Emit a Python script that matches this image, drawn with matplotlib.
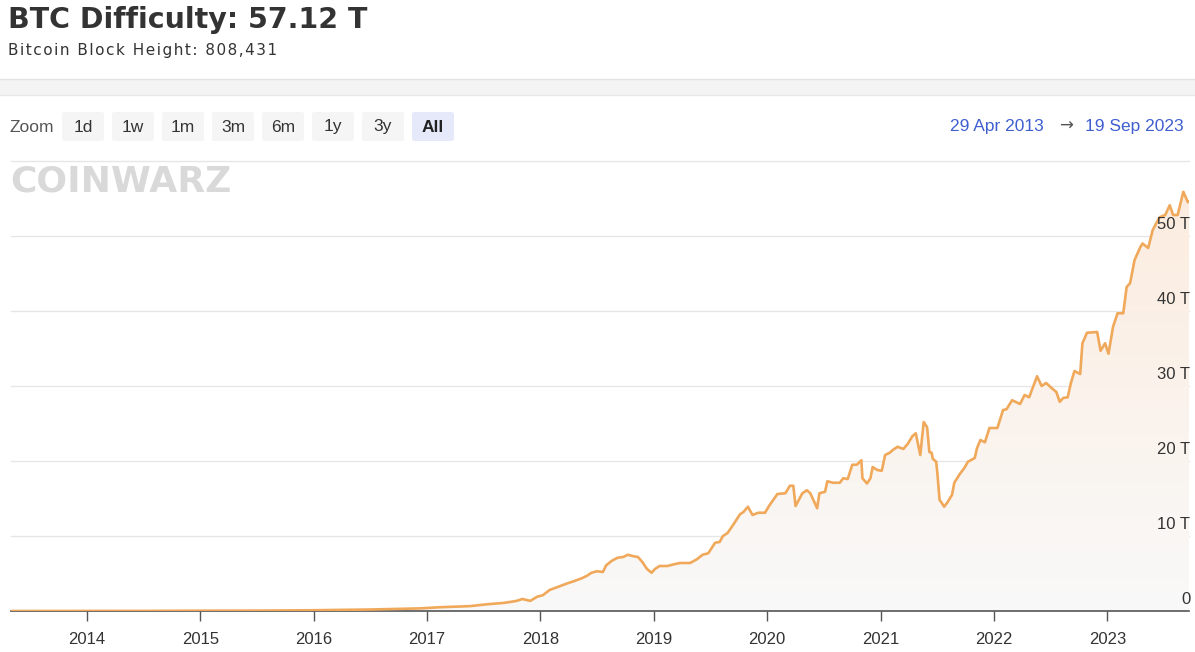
import numpy as np
import matplotlib.pyplot as plt
from matplotlib.patches import Polygon, FancyBboxPatch, Rectangle
from matplotlib.colors import LinearSegmentedColormap

# difficulty in T, dates as decimal years
years = [2013.33, 2013.75, 2014.0, 2014.5, 2015.0, 2015.5, 2016.0, 2016.5, 2016.94,
         2017.11, 2017.38, 2017.53, 2017.67, 2017.73, 2017.79, 2017.84, 2017.91, 2017.97,
         2018.02, 2018.08, 2018.15, 2018.20, 2018.24, 2018.30, 2018.37, 2018.41, 2018.45,
         2018.50, 2018.55, 2018.58, 2018.63, 2018.68, 2018.73, 2018.77, 2018.82, 2018.86,
         2018.90, 2018.94, 2018.98, 2019.01, 2019.05, 2019.12, 2019.17, 2019.23, 2019.32,
         2019.38, 2019.43, 2019.48, 2019.54, 2019.58, 2019.61, 2019.65, 2019.70, 2019.76,
         2019.79, 2019.83, 2019.87, 2019.92, 2019.98, 2020.02, 2020.09, 2020.16, 2020.20,
         2020.23, 2020.25, 2020.31, 2020.35, 2020.38, 2020.44, 2020.46, 2020.51, 2020.53,
         2020.58, 2020.64, 2020.67, 2020.71, 2020.75, 2020.79, 2020.83, 2020.84, 2020.88,
         2020.91, 2020.93, 2020.97, 2021.01, 2021.04, 2021.08, 2021.11, 2021.15, 2021.20,
         2021.24, 2021.28, 2021.31, 2021.35, 2021.38, 2021.41, 2021.43, 2021.45, 2021.46,
         2021.49, 2021.50, 2021.52, 2021.54, 2021.56, 2021.59, 2021.63, 2021.65, 2021.70,
         2021.74, 2021.77, 2021.83, 2021.85, 2021.88, 2021.92, 2021.96, 2022.03, 2022.08,
         2022.11, 2022.16, 2022.23, 2022.27, 2022.31, 2022.38, 2022.42, 2022.46, 2022.51,
         2022.55, 2022.58, 2022.61, 2022.65, 2022.68, 2022.71, 2022.76, 2022.78, 2022.82,
         2022.91, 2022.94, 2022.98, 2023.01, 2023.05, 2023.09, 2023.14, 2023.17, 2023.20,
         2023.24, 2023.29, 2023.31, 2023.36, 2023.40, 2023.46, 2023.51, 2023.55, 2023.58,
         2023.62, 2023.67, 2023.71, 2023.72]
difficulty = [0.0, 0.0003, 0.0014, 0.015, 0.04, 0.05, 0.10, 0.2, 0.35,
              0.5, 0.65, 0.9, 1.07, 1.2, 1.35, 1.6, 1.35, 1.9,
              2.1, 2.8, 3.2, 3.5, 3.7, 4.0, 4.4, 4.7, 5.1,
              5.3, 5.2, 6.1, 6.7, 7.1, 7.2, 7.5, 7.3, 7.2,
              6.5, 5.6, 5.1, 5.6, 6.0, 6.0, 6.2, 6.4, 6.4,
              6.9, 7.5, 7.7, 9.1, 9.2, 10.0, 10.4, 11.5, 12.9,
              13.2, 13.9, 12.8, 13.1, 13.1, 14.1, 15.6, 15.7, 16.7,
              16.7, 14.0, 15.7, 16.1, 15.7, 13.7, 15.7, 15.9, 17.3,
              17.1, 17.1, 17.7, 17.6, 19.5, 19.5, 20.1, 17.7, 17.0,
              17.7, 19.2, 18.8, 18.7, 20.8, 21.1, 21.5, 21.9, 21.6,
              22.3, 23.3, 23.7, 20.8, 25.2, 24.5, 21.2, 21.1, 20.3,
              19.9, 18.5, 14.8, 14.4, 13.9, 14.5, 15.5, 17.1, 18.3,
              19.1, 19.9, 20.4, 21.7, 22.8, 22.5, 24.4, 24.4, 26.8,
              26.9, 28.1, 27.6, 28.8, 28.5, 31.3, 30.0, 30.4, 29.7,
              29.2, 27.9, 28.4, 28.5, 30.5, 32.0, 31.6, 35.7, 37.1,
              37.2, 34.7, 35.7, 34.3, 37.9, 39.7, 39.7, 43.2, 43.7,
              46.8, 48.5, 49.0, 48.4, 50.8, 52.5, 52.8, 54.1, 52.8,
              52.8, 55.9, 54.5, 54.6]
year_ticks = list(range(2014, 2024))
y_ticks = [0, 10, 20, 30, 40, 50]
y_labels = ['0', '10 T', '20 T', '30 T', '40 T', '50 T']
zoom_buttons = ['1d', '1w', '1m', '3m', '6m', '1y', '3y', 'All']

W, H = 1195, 652
fig = plt.figure(figsize=(W / 100, H / 100), dpi=100)
fig.patch.set_facecolor('white')


def fx(px):
    return px / W


def fy(py):
    return 1 - py / H


# header
fig.text(fx(8), fy(20), 'BTC Difficulty: 57.12 T', fontsize=20.5, fontweight='bold',
         color='#333333', va='center', ha='left', family='DejaVu Sans')
subtitle = 'Bitcoin Block Height: 808,431'
fig.text(fx(8), fy(51), '\u200a'.join(subtitle), fontsize=11,
         color='#333333', va='center', ha='left', family='DejaVu Sans')

# grey band
fig.patches.append(Rectangle((0, fy(95)), 1, fy(79) - fy(95), transform=fig.transFigure,
                             facecolor='#f4f4f4', edgecolor='none'))
fig.lines.append(plt.Line2D([0, 1], [fy(79), fy(79)], transform=fig.transFigure,
                            color='#e2e2e2', lw=1))
fig.lines.append(plt.Line2D([0, 1], [fy(95), fy(95)], transform=fig.transFigure,
                            color='#e8e8e8', lw=1))

# zoom buttons
fig.text(fx(10), fy(127), 'Zoom', fontsize=12.5, color='#555555', va='center',
         family='Liberation Sans')
for i, lab in enumerate(zoom_buttons):
    x0 = 62 + i * 50
    sel = lab == 'All'
    fig.patches.append(FancyBboxPatch((fx(x0), fy(141)), fx(42), fy(112) - fy(141),
                                      boxstyle='round,pad=0,rounding_size=0.003',
                                      transform=fig.transFigure,
                                      facecolor='#e6e9f9' if sel else '#f5f5f5',
                                      edgecolor='none'))
    fig.text(fx(x0 + 21), fy(127), lab, fontsize=12.5, color='#222222' if sel else '#333333',
             fontweight='bold' if sel else 'normal', ha='center', va='center',
             family='Liberation Sans')

# date range
fig.text(fx(1184), fy(127), '19 Sep 2023', fontsize=12.5, color='#3f5fd0',
         ha='right', va='center', family='Liberation Sans')
fig.text(fx(1066), fy(126), '\u2192', fontsize=12, color='#555555',
         ha='center', va='center', family='DejaVu Sans')
fig.text(fx(1044), fy(127), '29 Apr 2013', fontsize=12.5, color='#3f5fd0',
         ha='right', va='center', family='Liberation Sans')

# chart
ax = fig.add_axes([fx(11), fy(611), fx(1178), fy(161) - fy(611)])
ax.set_facecolor('none')
x = np.array(years)
y = np.array(difficulty)
x0, x1 = years[0], years[-1]

for v in range(10, 70, 10):
    ax.axhline(v, color='#e6e6e6', lw=1, zorder=0, clip_on=False)

verts = [(x0, 0)] + list(zip(x, y)) + [(x1, 0)]
poly = Polygon(verts, closed=True, facecolor='none', edgecolor='none')
ax.add_patch(poly)
grad = np.linspace(0, 1, 256).reshape(-1, 1)
cmap = LinearSegmentedColormap.from_list('g', ['#f9f9f9', '#fcebdd'])
im = ax.imshow(grad, extent=[x0, x1, 0, 60], origin='lower', aspect='auto',
               cmap=cmap, zorder=1)
im.set_clip_path(poly)

ax.plot(x, y, color='#f0a85a', lw=1.9, zorder=3, solid_joinstyle='round')

ax.set_xlim(x0, x1)
ax.set_ylim(0, 60)

# watermark
fig.text(fx(10), fy(182), 'COINWARZ', fontsize=26, fontweight='heavy', color='#d9d9d9',
         va='center', ha='left', family='DejaVu Sans', zorder=0)

for s in ['top', 'right', 'left']:
    ax.spines[s].set_visible(False)
ax.spines['bottom'].set_color('#555555')
ax.spines['bottom'].set_linewidth(1.2)
ax.set_xticks(year_ticks)
ax.set_xticklabels([str(t) for t in year_ticks])
ax.tick_params(axis='x', length=7, width=1, color='#555555', pad=8, labelsize=12,
               labelcolor='#333333')
ax.set_yticks([])

for v, lab in zip(y_ticks, y_labels):
    ax.annotate(lab, xy=(1, v), xycoords=('axes fraction', 'data'),
                xytext=(1, 3), textcoords='offset points', ha='right', va='bottom',
                fontsize=12, color='#333333', family='Liberation Sans', zorder=5)

for lbl in ax.get_xticklabels():
    lbl.set_family('Liberation Sans')

fig.savefig('out.png', dpi=100)
